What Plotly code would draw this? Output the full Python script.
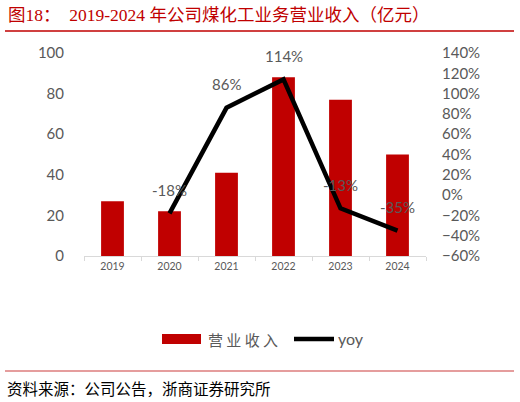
import plotly.graph_objects as go

# data
years = ["2019", "2020", "2021", "2022", "2023", "2024"]
revenue = [27, 22, 41, 88, 77, 50]            # 营业收入（亿元）
yoy_years = ["2020", "2021", "2022", "2023", "2024"]
yoy = [-0.18, 0.86, 1.14, -0.13, -0.35]
yoy_labels = ["-18%", "86%", "114%", "-13%", "-35%"]

W, H = 520, 402
# plot area in pixels
X0, X1, Y0, Y1 = 84, 426, 53, 256

def px(x):
    return (x - X0) / (X1 - X0)

def py(y):
    return (Y1 - y) / (Y1 - Y0)

LAT = "Lato, Open Sans, sans-serif"
CJK = "Liberation Serif, Noto Sans CJK SC, serif"
GREY = "#595959"
RED = "#c00000"

fig = go.Figure()
fig.add_trace(go.Bar(x=years, y=revenue, name="营业收入",
                     marker=dict(color=RED, line=dict(width=0)),
                     width=0.4, yaxis="y"))
fig.add_trace(go.Scatter(x=yoy_years, y=yoy, name="yoy", mode="lines",
                         line=dict(color="#000000", width=4.5),
                         yaxis="y2"))

# yoy labels: category index so plotly doesn't read "2020" as a number
annotations = [
    dict(x=years.index(x), y=v, xref="x", yref="y2", text=t, showarrow=False,
         yshift=23.5, font=dict(family=LAT, size=15, color=GREY))
    for x, v, t in zip(yoy_years, yoy, yoy_labels)
]
annotations += [
    dict(text="图18：  2019-2024 年公司煤化工业务营业收入（亿元）",
         x=px(6), y=py(15), xref="paper", yref="paper",
         xanchor="left", yanchor="middle", showarrow=False,
         font=dict(family=CJK, size=17.5, color=RED)),
    dict(text="营 业 收 入", x=px(206), y=py(339), xref="paper", yref="paper",
         xanchor="left", yanchor="middle", showarrow=False,
         font=dict(family="Noto Sans CJK SC", size=15, color=GREY)),
    dict(text="yoy", x=px(336), y=py(338), xref="paper", yref="paper",
         xanchor="left", yanchor="middle", showarrow=False,
         font=dict(family=LAT, size=16, color=GREY)),
    dict(text="资料来源：公司公告，浙商证券研究所", x=px(5), y=py(389),
         xref="paper", yref="paper", xanchor="left", yanchor="middle",
         showarrow=False,
         font=dict(family=CJK, size=15.5, color="#000000")),
]

shapes = [
    dict(type="line", xref="paper", yref="paper", x0=px(5), x1=px(514),
         y0=py(31), y1=py(31), line=dict(color=RED, width=1.5)),
    dict(type="line", xref="paper", yref="paper", x0=px(5), x1=px(514),
         y0=py(371), y1=py(371), line=dict(color="#dc7c7c", width=1.5)),
    dict(type="rect", xref="paper", yref="paper", x0=px(162), x1=px(201),
         y0=py(344), y1=py(334), fillcolor=RED, line=dict(width=0)),
    dict(type="line", xref="paper", yref="paper", x0=px(294), x1=px(334),
         y0=py(339), y1=py(339), line=dict(color="#000000", width=4.5)),
]

fig.update_layout(
    width=W, height=H,
    margin=dict(l=X0, r=W - X1, t=Y0, b=H - Y1, pad=0),
    paper_bgcolor="#ffffff", plot_bgcolor="#ffffff",
    showlegend=False,
    xaxis=dict(type="category", range=[-0.5, len(years) - 0.5],
               showgrid=False, zeroline=False,
               showline=True, linecolor="#d9d9d9", linewidth=1,
               ticks="outside", tickson="boundaries", ticklen=4,
               tickcolor="#d9d9d9",
               tickfont=dict(family=LAT, size=10.5, color=GREY)),
    yaxis=dict(range=[0, 100], dtick=20, showgrid=False, zeroline=False,
               showline=False, ticks="", ticklabelstandoff=19,
               tickfont=dict(family=LAT, size=15, color=GREY)),
    yaxis2=dict(range=[-0.6, 1.4], dtick=0.2, tickformat=".0%",
                overlaying="y", side="right", showgrid=False,
                zeroline=False, showline=False, ticks="",
                ticklabelstandoff=15,
                tickfont=dict(family=LAT, size=15, color=GREY)),
    annotations=annotations,
    shapes=shapes,
)

# drop the browser's default body margin so the figure sits at 0,0
fig.write_html("out.html",
               config={"displayModeBar": False},
               post_script="document.body.style.margin='0px';")
